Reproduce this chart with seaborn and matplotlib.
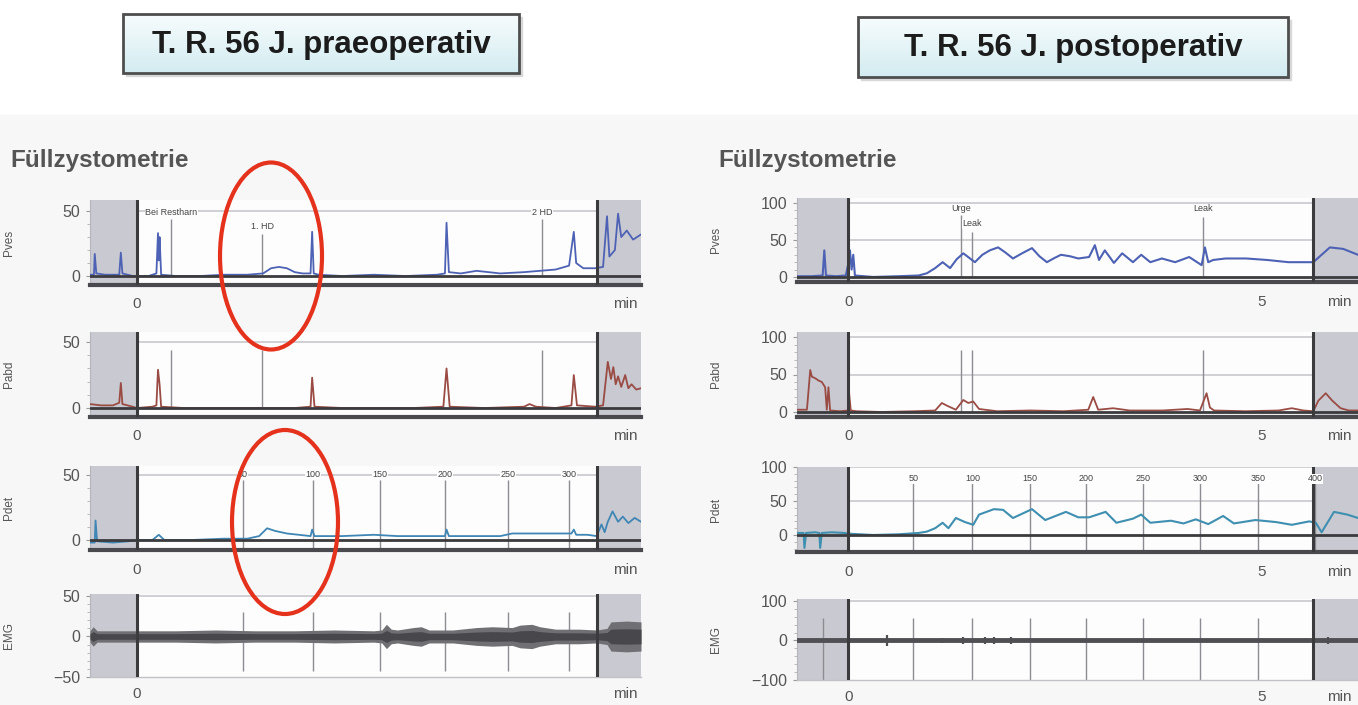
import matplotlib.pyplot as plt
import numpy as np
import seaborn as sns
from matplotlib.colors import LinearSegmentedColormap
from matplotlib.patches import Ellipse, Rectangle
from matplotlib.ticker import MultipleLocator

sns.set_theme(style="white")
plt.rcParams["font.family"] = ["Liberation Sans", "DejaVu Sans"]

W, H = 1358, 705

# %% data (time in min)
# praeoperativ
l_pves_t = [-0.59, -0.54, -0.53, -0.51, -0.40, -0.22, -0.20, -0.18, -0.05, 0.0, 0.15, 0.25, 0.27, 0.28, 0.29,
            0.31, 0.5, 0.8, 1.1, 1.4, 1.6, 1.7, 1.8, 1.9, 2.0, 2.1, 2.2, 2.22, 2.24, 2.3, 2.6, 3.0, 3.4, 3.8,
            3.90, 3.92, 3.95, 4.1, 4.3, 4.45, 4.6, 4.9, 5.1, 5.3, 5.47, 5.53, 5.56, 5.65, 5.8, 5.9, 5.95, 5.98,
            6.05, 6.09, 6.13, 6.2, 6.28, 6.38]
l_pves = [1, 1, 17, 2, 1, 1, 18, 2, 0, 0, 0, 2, 33, 12, 30, 1, 0, 0, 1, 1, 2, 6, 7, 6, 3, 2, 2, 34, 2, 1, 0, 1,
          0, 1, 2, 41, 3, 2, 4, 3, 2, 3, 4, 5, 8, 34, 10, 6, 6, 7, 46, 15, 20, 48, 30, 35, 28, 32]

l_pabd_t = [-0.59, -0.45, -0.30, -0.22, -0.20, -0.18, -0.05, 0.0, 0.2, 0.25, 0.27, 0.29, 0.31, 0.6, 1.0, 1.5,
            2.0, 2.20, 2.22, 2.25, 2.6, 3.0, 3.5, 3.88, 3.92, 3.96, 4.4, 4.9, 4.97, 5.05, 5.3, 5.50, 5.53, 5.57,
            5.8, 5.9, 5.96, 6.0, 6.03, 6.06, 6.09, 6.13, 6.18, 6.22, 6.26, 6.32, 6.38]
l_pabd = [3, 2, 2, 4, 19, 3, 1, 0, 1, 2, 29, 18, 1, 0, 0, 0, 0, 1, 23, 1, 0, 0, 0, 1, 30, 1, 0, 1, 3, 1, 0, 2,
          25, 2, 1, 2, 35, 22, 31, 18, 24, 16, 25, 15, 18, 14, 15]

l_pdet_t = [-0.59, -0.53, -0.52, -0.50, -0.3, -0.1, 0.0, 0.2, 0.28, 0.35, 0.7, 1.1, 1.4, 1.55, 1.65, 1.75, 1.9,
            2.05, 2.2, 2.22, 2.25, 2.6, 3.0, 3.3, 3.6, 3.9, 3.92, 3.95, 4.3, 4.6, 4.75, 5.0, 5.3, 5.5, 5.53, 5.56,
            5.7, 5.82, 5.88, 5.92, 5.96, 6.02, 6.09, 6.15, 6.22, 6.30, 6.38]
l_pdet = [-2, -2, 15, -1, -2, -1, 0, 0, 4, 0, 0, 1, 1, 3, 9, 7, 5, 4, 3, 8, 3, 3, 4, 3, 3, 3, 8, 3, 3, 3, 5, 5, 5,
          5, 8, 4, 4, 3, 12, 6, 14, 22, 14, 18, 13, 17, 14]

l_emg_t = [-0.59, -0.55, -0.50, 0.0, 0.5, 1.0, 1.5, 2.0, 2.5, 3.0, 3.1, 3.16, 3.22, 3.3, 3.5, 3.6, 3.7, 4.0, 4.3,
           4.5, 4.75, 4.85, 5.0, 5.1, 5.3, 5.6, 5.82, 5.95, 6.0, 6.2, 6.38]
l_emg_env = [7, 12, 7, 7, 7, 8, 7, 7, 8, 7, 8, 15, 9, 8, 11, 12, 8, 8, 11, 12, 11, 14, 15, 12, 9, 9, 8, 10, 18,
             19, 18]

l_events = [0.44, 1.59, 5.13]
l_event_labels = ["Bei Restharn", "1. HD", "2 HD"]
l_event_label_y = [49, 38, 49]
l_event_top = [44, 32, 44]
l_vol_t = [1.34, 2.23, 3.08, 3.90, 4.70, 5.47]
l_vol_labels = ["50", "100", "150", "200", "250", "300"]

# postoperativ
r_pves_t = [-0.62, -0.45, -0.31, -0.29, -0.27, -0.15, -0.03, 0.0, 0.02, 0.04, 0.06, 0.08, 0.3, 0.6, 0.85, 0.95,
            1.05, 1.14, 1.23, 1.31, 1.39, 1.46, 1.53, 1.62, 1.71, 1.81, 1.90, 1.99, 2.10, 2.22, 2.31, 2.40, 2.48,
            2.57, 2.68, 2.78, 2.91, 2.98, 3.03, 3.10, 3.21, 3.31, 3.44, 3.54, 3.65, 3.79, 3.95, 4.12, 4.27, 4.31,
            4.35, 4.41, 4.56, 4.81, 5.06, 5.32, 5.62, 5.72, 5.82, 5.98, 6.16]
r_pves = [1, 1, 2, 36, 2, 1, 2, 18, 36, 10, 30, 2, 0, 1, 2, 5, 12, 20, 12, 24, 32, 26, 20, 30, 36, 40, 33, 25,
          32, 39, 28, 20, 25, 30, 28, 25, 27, 43, 23, 36, 19, 32, 20, 30, 20, 25, 20, 27, 16, 40, 20, 23, 25, 25,
          23, 20, 20, 30, 40, 38, 30]

r_pabd_t = [-0.62, -0.50, -0.46, -0.44, -0.40, -0.36, -0.32, -0.28, -0.26, -0.24, -0.22, -0.10, 0.0, 0.01, 0.03,
            0.1, 0.4, 0.8, 1.05, 1.13, 1.2, 1.3, 1.39, 1.45, 1.51, 1.58, 1.8, 2.2, 2.6, 2.9, 2.96, 3.02, 3.2, 3.4,
            3.8, 4.1, 4.25, 4.33, 4.37, 4.42, 4.8, 5.2, 5.36, 5.5, 5.62, 5.68, 5.77, 5.85, 5.95, 6.05, 6.16]
r_pabd = [3, 3, 56, 47, 45, 42, 40, 33, 3, 33, 2, 1, 2, 25, 2, 1, 0, 1, 2, 12, 8, 3, 16, 12, 14, 4, 1, 2, 1, 3,
          20, 3, 5, 2, 2, 4, 2, 25, 6, 2, 1, 2, 5, 2, 1, 15, 25, 15, 5, 2, 2]

r_pdet_t = [-0.62, -0.54, -0.53, -0.51, -0.40, -0.35, -0.34, -0.32, -0.2, -0.05, 0.0, 0.3, 0.6, 0.85, 0.95, 1.05,
            1.14, 1.21, 1.30, 1.41, 1.51, 1.58, 1.76, 1.87, 1.99, 2.22, 2.38, 2.63, 2.78, 2.91, 3.11, 3.24, 3.44,
            3.54, 3.65, 3.90, 4.05, 4.20, 4.35, 4.53, 4.66, 4.92, 5.17, 5.36, 5.57, 5.65, 5.72, 5.80, 5.87, 6.03,
            6.16]
r_pdet = [3, 3, -19, 3, 4, 3, -19, 3, 4, 3, 2, 0, 1, 3, 5, 10, 18, 10, 25, 19, 15, 30, 38, 37, 25, 38, 22, 34, 26,
          26, 34, 18, 24, 30, 18, 21, 17, 23, 16, 28, 17, 22, 19, 15, 20, 18, 4, 20, 34, 30, 25]

r_emg_t = [0.47, 1.13, 1.39, 1.65, 1.76, 1.97, 5.80]
r_emg_amp = [15, 6, 10, 10, 10, 10, 8]

r_events = [1.365, 1.50, 4.29]
r_event_labels = ["Urge", "Leak", "Leak"]
r_event_label_y = [92, 72, 92]
r_event_top = [84, 61, 81]
r_vol_t = [0.785, 1.50, 2.19, 2.87, 3.56, 4.25, 4.95, 5.64]
r_vol_labels = ["50", "100", "150", "200", "250", "300", "350", "400"]

SHADE = "#c9c9d1"
GRID = "#c4c4ca"
DARK = "#3b3b3e"
TXT = "#555555"
MARK = "#8c8c92"

fig = plt.figure(figsize=(W / 100, H / 100), dpi=100)
fig.patch.set_facecolor("white")
fig.add_artist(Rectangle((0, 0), 1, 1 - 115 / H, transform=fig.transFigure, color="#f7f7f8", zorder=-5))


def px_axes(x0, x1, y0, y1):
    return fig.add_axes([x0 / W, 1 - y1 / H, (x1 - x0) / W, (y1 - y0) / H])


def setup(ax, xlim, shade, ylim, yticks, grid, name, label_x, minor, xticks, pressure=True):
    ax.set_facecolor("#fdfdfd")
    ax.set_xlim(*xlim)
    ax.set_ylim(*ylim)
    ax.axvspan(xlim[0], 0, color=SHADE, lw=0, zorder=0)
    ax.axvspan(shade, xlim[1], color=SHADE, lw=0, zorder=0)
    ax.hlines(grid, 0, shade, color=GRID, lw=1.1, zorder=1)
    ax.axvline(0, color=DARK, lw=2.2, zorder=6)
    ax.axvline(shade, color=DARK, lw=2.2, zorder=6)
    if pressure:
        ax.axhline(0, color=DARK, lw=2, zorder=5)
    for s in ["top", "right"]:
        ax.spines[s].set_visible(False)
    ax.spines["left"].set_color("#b5b5bb")
    ax.spines["left"].set_linewidth(0.8)
    ax.spines["bottom"].set_color("#4a4a4e" if pressure else "#c2c2c6")
    ax.spines["bottom"].set_linewidth(3 if pressure else 1)
    ax.set_yticks(yticks)
    ax.yaxis.set_minor_locator(MultipleLocator(minor))
    ax.tick_params(axis="y", which="major", left=True, length=3, width=0.8, color="#9a9a9a",
                   labelsize=11.5, labelcolor=TXT, pad=4)
    ax.tick_params(axis="y", which="minor", left=True, length=2, width=0.6, color="#b0b0b0")
    ax.set_xticks([t for t, _ in xticks], [s for _, s in xticks])
    ax.tick_params(axis="x", bottom=False, labelsize=11, labelcolor=TXT, pad=3 if pressure else 1)
    ax.set_xlabel("")
    ax.set_ylabel(name, fontsize=8.5, color=TXT)
    ax.yaxis.set_label_coords(label_x, 0.5)


# %% left column
lx0, lx1 = 90, 641
l_xt = [(0, "0"), (6.18, "min")]
l_xlim = (-0.59, 6.38)
l_shade = 5.82
llab = -(lx0 - 15) / (lx1 - lx0)

ax = px_axes(lx0, lx1, 200, 285)
setup(ax, l_xlim, l_shade, (-6.9, 58.5), [0, 50], [50], "Pves", llab, 10, l_xt)
sns.lineplot(x=l_pves_t, y=l_pves, ax=ax, color="#4d62b4", lw=1.3, estimator=None, sort=False, zorder=3)
ax.vlines(l_events, 0, l_event_top, color=MARK, lw=1, zorder=2)
for t, s, y in zip(l_events, l_event_labels, l_event_label_y):
    ax.text(t, y, s, fontsize=6.5, color="#444", ha="center", va="center", zorder=7,
            bbox=dict(fc="#fdfdfd", ec="none", pad=0.3))

ax = px_axes(lx0, lx1, 332, 417)
setup(ax, l_xlim, l_shade, (-6.8, 57.6), [0, 50], [50], "Pabd", llab, 10, l_xt)
sns.lineplot(x=l_pabd_t, y=l_pabd, ax=ax, color="#9a4c44", lw=1.3, estimator=None, sort=False, zorder=3)
ax.vlines(l_events, 0, 44, color=MARK, lw=1, zorder=2)

ax = px_axes(lx0, lx1, 466, 550)
setup(ax, l_xlim, l_shade, (-7.7, 56.9), [0, 50], [50], "Pdet", llab, 10, l_xt)
sns.lineplot(x=l_pdet_t, y=l_pdet, ax=ax, color="#3f86b4", lw=1.3, estimator=None, sort=False, zorder=3)
ax.vlines(l_vol_t, -7.7, 46, color=MARK, lw=1, zorder=2)
for t, s in zip(l_vol_t, l_vol_labels):
    ax.text(t, 50, s, fontsize=6.5, color="#444", ha="center", va="center", zorder=7,
            bbox=dict(fc="#fdfdfd", ec="none", pad=0.3))

ax = px_axes(lx0, lx1, 594, 677)
setup(ax, l_xlim, l_shade, (-50, 52.4), [-50, 0, 50], [50], "EMG", llab, 10, l_xt, pressure=False)
env = np.array(l_emg_env)
ax.fill_between(l_emg_t, -env, env, color="#707074", lw=0, zorder=3)
ax.fill_between(l_emg_t, -env / 2, env / 2, color="#48484c", lw=0, zorder=3)
ax.vlines(l_vol_t, -42, 30, color=MARK, lw=1, zorder=2)

# %% right column
rx0, rx1 = 797, 1358
r_xt = [(0, "0"), (5, "5"), (5.93, "min")]
r_xlim = (-0.62, 6.16)
r_shade = 5.62
rlab = -(rx0 - 722) / (rx1 - rx0)

ax = px_axes(rx0, rx1, 198, 282)
setup(ax, r_xlim, r_shade, (-6.8, 106.8), [0, 50, 100], [50, 100], "Pves", rlab, 10, r_xt)
sns.lineplot(x=r_pves_t, y=r_pves, ax=ax, color="#4d62b4", lw=1.5, estimator=None, sort=False, zorder=3)
ax.vlines(r_events, 0, r_event_top, color=MARK, lw=1, zorder=2)
for t, s, y in zip(r_events, r_event_labels, r_event_label_y):
    ax.text(t, y, s, fontsize=6.5, color="#444", ha="center", va="center", zorder=7,
            bbox=dict(fc="#fdfdfd", ec="none", pad=0.3))

ax = px_axes(rx0, rx1, 332, 417)
setup(ax, r_xlim, r_shade, (-6.7, 106.7), [0, 50, 100], [50, 100], "Pabd", rlab, 10, r_xt)
sns.lineplot(x=r_pabd_t, y=r_pabd, ax=ax, color="#9a4c44", lw=1.3, estimator=None, sort=False, zorder=3)
ax.vlines(r_events, 0, 83, color=MARK, lw=1, zorder=2)

ax = px_axes(rx0, rx1, 467, 552)
setup(ax, r_xlim, r_shade, (-25, 100), [0, 50, 100], [50, 100], "Pdet", rlab, 10, r_xt)
sns.lineplot(x=r_pdet_t, y=r_pdet, ax=ax, color="#3f8fb0", lw=1.5, estimator=None, sort=False, zorder=3)
ax.vlines(r_vol_t, -25, 76, color=MARK, lw=1, zorder=2)
for t, s in zip(r_vol_t, r_vol_labels):
    ax.text(t, 83, s, fontsize=6.5, color="#444", ha="center", va="center", zorder=7,
            bbox=dict(fc="#fdfdfd", ec="none", pad=0.3))

ax = px_axes(rx0, rx1, 599, 680)
setup(ax, r_xlim, r_shade, (-100, 105), [-100, 0, 100], [100], "EMG", rlab, 20, r_xt, pressure=False)
ax.axhline(0, color="#505054", lw=3.5, zorder=3)
ax.vlines(r_emg_t, -np.array(r_emg_amp), r_emg_amp, color="#505054", lw=1.6, zorder=3)
ax.vlines(r_vol_t[:-1] + [-0.31], -100, 56, color=MARK, lw=1, zorder=2)

# %% headings, title boxes, red marks
for x, s in [(10, "Füllzystometrie"), (718, "Füllzystometrie")]:
    fig.text(x / W, 1 - 160 / H, s, fontsize=17.5, fontweight="bold", color="#555555", ha="left", va="center")

ov = fig.add_axes([0, 0, 1, 1], zorder=10)
ov.patch.set_alpha(0)
ov.axis("off")
grad_cmap = LinearSegmentedColormap.from_list("box", ["#f7fcfd", "#d3ecf1"])
grad = np.linspace(0, 1, 64).reshape(-1, 1)
for (x0, x1, y0, y1), s in [((123, 519, 14, 73), "T. R. 56 J. praeoperativ"),
                            ((858, 1288, 17, 77), "T. R. 56 J. postoperativ")]:
    ov.add_patch(Rectangle((x0 + 3, y0 + 3), x1 - x0, y1 - y0, color="#d8d8d8", zorder=1))
    ov.imshow(grad, extent=(x0, x1, y1, y0), aspect="auto", cmap=grad_cmap, zorder=2)
    ov.add_patch(Rectangle((x0, y0), x1 - x0, y1 - y0, fill=False, ec="#4e4e4e", lw=2, zorder=3))
    ov.text((x0 + x1) / 2, (y0 + y1) / 2 + 1, s, fontsize=22.5, fontweight="bold", color="#1c1c1c",
            ha="center", va="center", zorder=4)

ov.add_patch(Ellipse((271, 256), 102, 187, fill=False, ec="#e5321c", lw=3, zorder=5))
ov.add_patch(Ellipse((285, 522), 106, 184, fill=False, ec="#e5321c", lw=3, zorder=5))
ov.set_xlim(0, W)
ov.set_ylim(H, 0)

fig.savefig("out.png", dpi=100, facecolor=fig.get_facecolor())
